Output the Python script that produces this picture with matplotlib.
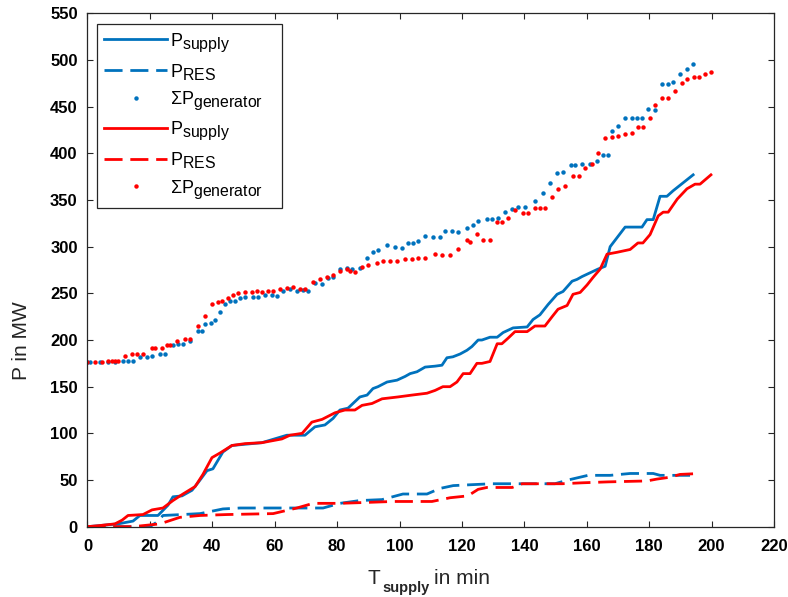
import matplotlib
matplotlib.use("Agg")
import matplotlib.pyplot as plt
import matplotlib._mathtext as _mt

# ---------------- data ----------------
# Scenario 1 (blue)
t_supply_blue = [0, 9.8, 14.6, 16.8, 22.6, 25.8, 27.4, 30.3, 33.5, 35.4, 38.3, 40.2, 43.4, 46.3, 55.9,
                 63.9, 69.7, 72.9, 76.1, 78.7, 80.9, 83.5, 87.3, 89.6, 91.5, 93.1, 96.0, 99.2, 101.8, 103.4,
                 105.6, 108.2, 111.4, 113.6, 115.2, 117.1, 119.4, 121.6, 123.2, 125.2, 126.4, 129.0, 131.3,
                 133.2, 136.4, 140.9, 142.8, 145.0, 147.6, 150.5, 152.4, 155.3, 156.9, 158.5, 163.6, 165.9,
                 167.5, 172.3, 177.7, 179.3, 181.3, 183.5, 185.7, 187.7, 194.1]
p_supply_blue = [0, 3, 6, 12, 12, 23, 32, 33, 39, 47, 60, 62, 80, 87, 90,
                 98, 98, 107, 109, 116, 125, 127, 139, 141, 148, 150, 155, 157, 161, 164,
                 166, 171, 172, 173, 181, 182, 185, 189, 193, 200, 200, 203, 203,
                 208, 213, 214, 222, 227, 238, 249, 252, 263, 265, 268, 276, 279,
                 300, 321, 321, 329, 329, 354, 354, 360, 377]

t_res_blue = [0, 20.0, 22.3, 24.2, 30.3, 36.1, 43.4, 48.9, 61.7, 68.1, 75.5, 80.9, 87.3, 94.4, 101.1,
              108.8, 113.0, 117.2, 123.2, 129.6, 140.2, 149.8, 154.0, 160.4, 167.5, 173.9, 181.3,
              183.5, 193.1]
p_res_blue = [0, 0, 5, 12, 13, 14, 19, 20, 20, 20, 20, 25, 28, 29, 35,
              35, 41, 44, 45, 46, 46, 46, 50, 55, 55, 57, 57,
              55, 55]

t_gen_blue = [0, 0.8, 4.0, 6.6, 8.8, 11.5, 13.0, 14.6, 16.8, 19.1, 20.7, 23.2, 24.8, 27.4, 29.0, 30.6,
              32.8, 35.4, 36.7, 37.7, 39.6, 40.9, 42.5, 44.1, 45.7, 47.3, 48.9, 50.5, 53.0, 54.6, 56.9,
              59.1, 60.7, 62.7, 64.9, 67.1, 69.1, 70.7, 72.9, 75.2, 77.1, 78.7, 80.9, 83.2, 84.8, 87.3,
              89.6, 91.5, 93.1, 96.0, 98.6, 100.8, 102.7, 104.3, 105.9, 108.2, 110.7, 113.0, 114.6,
              116.8, 118.8, 121.6, 123.6, 125.2, 128.0, 129.6, 131.6, 133.8, 136.1, 138.0, 140.2,
              143.4, 146.0, 148.2, 150.5, 152.4, 155.0, 156.2, 158.5, 161.1, 163.3, 165.2, 166.8,
              168.1, 170.0, 172.3, 174.5, 176.1, 177.7, 179.6, 181.9, 184.1, 186.1, 187.7, 189.9,
              192.1, 194.1]
p_gen_blue = [176, 176, 176, 176, 176, 178, 177, 178, 182, 182, 183, 185, 185, 195, 196, 196,
              199, 210, 210, 217, 218, 221, 230, 239, 242, 242, 245, 246, 246, 246, 248,
              248, 247, 252, 255, 253, 254, 253, 261, 260, 266, 267, 276, 277, 276, 277,
              288, 294, 296, 302, 300, 299, 304, 304, 306, 311, 310, 310, 317,
              317, 316, 320, 323, 328, 330, 330, 331, 337, 340, 342, 342,
              349, 357, 368, 379, 380, 387, 387, 389, 389, 392, 398, 398,
              424, 429, 438, 438, 438, 438, 448, 446, 474, 474, 477, 485,
              490, 496]

# Scenario 2 (red)
t_supply_red = [0, 3.4, 8.8, 11.1, 13.0, 17.8, 20.7, 24.2, 27.4, 30.6, 34.5, 37.0, 39.9, 42.5, 46.3,
                50.5, 55.9, 62.3, 64.9, 68.8, 71.9, 75.2, 79.3, 82.5, 85.7, 88.0, 91.2, 94.4, 99.5,
                104.0, 108.8, 111.4, 113.9, 116.2, 118.4, 120.4, 122.6, 124.8, 126.4, 129.0, 131.3,
                132.8, 134.8, 137.0, 140.9, 143.4, 146.6, 148.9, 150.8, 153.7, 155.6, 157.9, 160.1,
                162.0, 164.3, 166.5, 169.7, 173.9, 176.4, 178.0, 180.3, 182.9, 184.5, 186.1, 189.0,
                192.1, 194.7, 196.3, 199.8]
p_supply_red = [0, 1, 3, 7, 12, 13, 18, 20, 28, 35, 43, 56, 74, 79, 87,
                89, 90, 94, 98, 100, 112, 115, 122, 125, 125, 130, 132, 137, 139,
                141, 143, 146, 150, 150, 155, 164, 164, 175, 175, 177, 196,
                196, 202, 209, 209, 215, 215, 225, 233, 237, 249, 251, 259,
                267, 276, 292, 294, 297, 304, 304, 313, 333, 337, 337, 351,
                362, 367, 367, 377]

t_res_red = [0, 14.6, 23.2, 29.6, 36.1, 44.7, 59.5, 67.1, 72.3, 80.9, 89.6, 97.9, 110.4, 116.2,
             121.9, 125.2, 128.0, 136.1, 139.3, 152.1, 158.5, 166.8, 179.3, 182.5, 186.7, 189.9, 196.3]
p_res_red = [0, 0, 3, 10, 12, 13, 14, 20, 25, 25, 26, 27, 27, 31,
             33, 40, 42, 42, 46, 46, 47, 48, 49, 51, 53, 56, 57]

t_gen_red = [0, 2.4, 4.6, 6.6, 7.9, 8.8, 9.8, 12.0, 14.3, 15.9, 17.8, 20.7, 21.6, 23.9, 25.5, 26.4,
             28.7, 31.2, 32.8, 35.4, 37.7, 39.9, 41.8, 43.1, 45.0, 46.6, 48.2, 50.5, 52.7, 54.3,
             55.9, 57.9, 59.5, 61.7, 63.9, 65.9, 68.1, 69.7, 72.3, 74.5, 76.8, 78.7, 80.9, 83.2,
             84.1, 85.7, 88.0, 89.9, 92.8, 94.7, 97.0, 99.2, 101.8, 104.0, 105.9, 108.2, 111.4,
             113.6, 116.2, 118.8, 121.6, 122.6, 124.8, 126.8, 129.0, 131.3, 132.8, 134.8, 137.0,
             139.6, 141.2, 143.4, 145.0, 146.6, 148.9, 150.8, 153.0, 155.6, 157.5, 159.5, 161.7,
             163.6, 165.9, 168.1, 170.0, 172.3, 174.5, 176.4, 178.0, 180.3, 181.9, 184.1, 186.1,
             188.3, 190.5, 192.1, 194.4, 196.0, 197.9, 199.8]
p_gen_red = [176, 176, 176, 177, 177, 177, 177, 183, 185, 185, 185, 191, 191, 191, 195, 195,
             199, 201, 201, 215, 226, 239, 241, 242, 245, 248, 250, 251, 251, 252,
             251, 252, 253, 255, 256, 257, 255, 255, 262, 265, 267, 270, 274, 276,
             274, 273, 278, 280, 282, 285, 285, 285, 287, 287, 288, 288, 292,
             291, 291, 298, 307, 305, 314, 307, 307, 326, 326, 331, 339,
             336, 336, 341, 341, 341, 353, 362, 365, 376, 376, 384, 389,
             400, 416, 418, 419, 421, 422, 428, 428, 438, 452, 459, 459,
             467, 475, 480, 482, 482, 485, 487]

x_ticks = list(range(0, 221, 20))
y_ticks = list(range(0, 551, 50))

labels = ['P$_{\\mathrm{supply}}$', 'P$_{\\mathrm{RES}}$', '\u03a3P$_{\\mathrm{generator}}$']

# ---------------- style ----------------
plt.rcParams['font.family'] = ['Liberation Sans', 'DejaVu Sans']
plt.rcParams['mathtext.fontset'] = 'custom'
plt.rcParams['mathtext.rm'] = 'Liberation Sans'
plt.rcParams['mathtext.it'] = 'Liberation Sans:italic'
plt.rcParams['mathtext.bf'] = 'Liberation Sans:bold'
# MATLAB-like large subscripts in the legend
_mt.SHRINK_FACTOR = 0.88

BLUE = '#0072BD'
RED = '#FF0000'
AXC = '#262626'

fig = plt.figure(figsize=(7.88, 5.97), dpi=100)
ax = fig.add_axes([0.1110, 0.1178, 0.8712, 0.8598])

lw = 2.0
dash = (0, (6.5, 2.8))
ms = 3.2

ax.plot(t_supply_blue, p_supply_blue, color=BLUE, lw=lw, label=labels[0])
ax.plot(t_res_blue, p_res_blue, color=BLUE, lw=lw, linestyle=dash, label=labels[1])
ax.plot(t_gen_blue, p_gen_blue, color=BLUE, linestyle='none', marker='o', ms=ms, mew=0, label=labels[2])
ax.plot(t_supply_red, p_supply_red, color=RED, lw=lw, label=labels[0])
ax.plot(t_res_red, p_res_red, color=RED, lw=lw, linestyle=dash, label=labels[1])
ax.plot(t_gen_red, p_gen_red, color=RED, linestyle='none', marker='o', ms=ms, mew=0, label=labels[2])

ax.set_xlim(0, 220)
ax.set_ylim(0, 550)
ax.set_xticks(x_ticks)
ax.set_yticks(y_ticks)

tickfont = dict(family='Liberation Sans', weight='bold', size=12)
ax.set_xticklabels([str(v) for v in x_ticks], fontdict=tickfont)
ax.set_yticklabels([str(v) for v in y_ticks], fontdict=tickfont)

ax.tick_params(direction='in', length=4, width=0.8, color=AXC, top=True, right=True,
               labelcolor='black')
ax.tick_params(axis='x', pad=9)
ax.tick_params(axis='y', pad=7)
for s in ax.spines.values():
    s.set_color(AXC)
    s.set_linewidth(0.9)

ax.set_ylabel('P in MW', fontsize=15, color=AXC)
ax.yaxis.set_label_coords(-0.082, 0.362)

# x label: "T" with bold subscript "supply", then "in min"
ax.text(0.4086, -0.1115, 'T', transform=ax.transAxes, fontsize=15, color=AXC,
        ha='left', va='baseline')
ax.text(0.4300, -0.1270, 'supply', transform=ax.transAxes, fontsize=10.5, weight='bold',
        color=AXC, ha='left', va='baseline')
ax.text(0.5050, -0.1115, 'in min', transform=ax.transAxes, fontsize=15, color=AXC,
        ha='left', va='baseline')

leg = ax.legend(loc='upper left', bbox_to_anchor=(0.0142, 0.5, 0.2691, 0.4788),
                mode='expand', borderaxespad=0,
                fontsize=13, numpoints=1, handlelength=3.5, handletextpad=0.15,
                labelspacing=0.44, borderpad=0.38, fancybox=False, framealpha=1,
                edgecolor=AXC)
leg.get_frame().set_linewidth(0.9)

fig.savefig('out.png', dpi=100)
